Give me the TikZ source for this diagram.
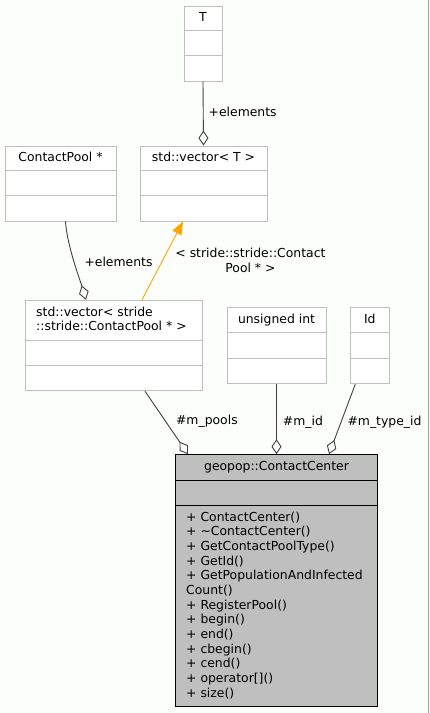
\documentclass[tikz,border=0pt]{standalone}
\usepackage{fontspec}
\setmainfont{DejaVu Sans}
\usepackage{tikz}
\usetikzlibrary{arrows.meta}
\definecolor{boxline}{RGB}{191,191,191}
\definecolor{edgegray}{RGB}{64,64,64}
\definecolor{ccfill}{RGB}{191,191,191}
\definecolor{bg}{RGB}{252,254,252}
\definecolor{tplorange}{RGB}{255,165,0}
\tikzset{
  txt/.style={font=\fontsize{12.4}{14.67}\selectfont, inner sep=0pt},
  cls/.style={draw=boxline, fill=white, inner sep=0pt, line width=.9pt},
  focus/.style={draw=black, fill=ccfill, inner sep=0pt, line width=1.1pt},
  sepline/.style={draw=boxline, line width=.9pt},
  focusline/.style={draw=black, line width=1.1pt},
  member/.style={draw=edgegray, line width=.9pt, -{Diamond[open,length=15pt,width=10pt]}},
  tpl/.style={draw=tplorange, line width=.9pt, -{Triangle[length=13pt,width=10pt]}}
}
% the two row separators of a class box
\newcommand\rowlines[4][sepline]{%
  \draw[#1]([yshift=-#3]#2.north west)--([yshift=-#3]#2.north east);
  \draw[#1]([yshift=-#4]#2.north west)--([yshift=-#4]#2.north east);}

\begin{document}
\begin{tikzpicture}[x=1pt,y=-1pt]
\fill[bg](0,0)rectangle(429,713);
\useasboundingbox(0,0)rectangle(429,713);
\draw[draw={rgb,255:red,160;green,160;blue,160}](428.5,0)--(428.5,713);
% classes
\node[cls,minimum width=38,minimum height=75](T)at(203,43.5){};
\node[cls,minimum width=127,minimum height=75](vecT)at(203.5,183.5){};
\node[cls,minimum width=111,minimum height=75](cp)at(60.5,183.5){};
\node[cls,minimum width=177,minimum height=90.5](vs)at(113.5,345.5){};
\node[cls,minimum width=99,minimum height=76](ui)at(276.5,345.7){};
\node[cls,minimum width=39,minimum height=76](id)at(369.8,345.7){};
\node[focus,minimum width=202.4,minimum height=252](cc)at(276.5,580.7){};
\rowlines{T}{25}{50}
\rowlines{vecT}{25}{50}
\rowlines{cp}{25}{50}
\rowlines{vs}{40.4}{65.7}
\rowlines{ui}{25}{50.7}
\rowlines{id}{25}{50.7}
\rowlines[focusline]{cc}{26}{51}
\node[txt,anchor=base](Tname)at([yshift=-16]T.north){T};
\node[txt,anchor=base](vecTname)at([yshift=-16]vecT.north){std::vector< T >};
\node[txt,anchor=base](cpname)at([yshift=-16]cp.north){ContactPool *};
\node[txt,anchor=north west,align=left,font=\fontsize{12.4}{13.4}\selectfont](vsname)at(36,307){std::vector< stride\\::stride::ContactPool * >};
\node[txt,anchor=base](uiname)at([yshift=-16]ui.north){unsigned int};
\node[txt,anchor=base](idname)at([yshift=-16]id.north){Id};
\node[txt,anchor=base](ccname)at([yshift=-16]cc.north){geopop::ContactCenter};
\node[txt,anchor=north west,align=left](ccops)at(186,511.5){+ ContactCenter()\\+ \textasciitilde ContactCenter()\\+ GetContactPoolType()\\+ GetId()\\+ GetPopulationAndInfected\\Count()\\+ RegisterPool()\\+ begin()\\+ end()\\+ cbegin()\\+ cend()\\+ operator[]()\\+ size()};
% connectors
\draw[member](T.south)--node[txt,right=5pt,pos=.48]{+elements}(vecT.north);
\draw[member]([xshift=5]cp.south)..controls([xshift=6.5,yshift=-24]cp.south)and([xshift=-33.5,yshift=20]vs.north)..([xshift=-27.5]vs.north)node[txt,pos=.5,right=10pt]{+elements};
\draw[tpl]([xshift=28.5]vs.north)--node[txt,right=12.5pt,align=center]{< stride::stride::Contact\\Pool * >}([xshift=-20.5]vecT.south);
\draw[member]([xshift=31.5]vs.south)--node[txt,right=10pt,pos=.48]{\#m\_pools}([xshift=-88.5]cc.north);
\draw[member](ui.south)--node[txt,right=6pt,pos=.54]{\#m\_id}(cc.north);
\draw[member]([xshift=-14.5]id.south)--node[txt,right=6pt,pos=.54]{\#m\_type\_id}([xshift=52.5]cc.north);
\end{tikzpicture}
\end{document}
